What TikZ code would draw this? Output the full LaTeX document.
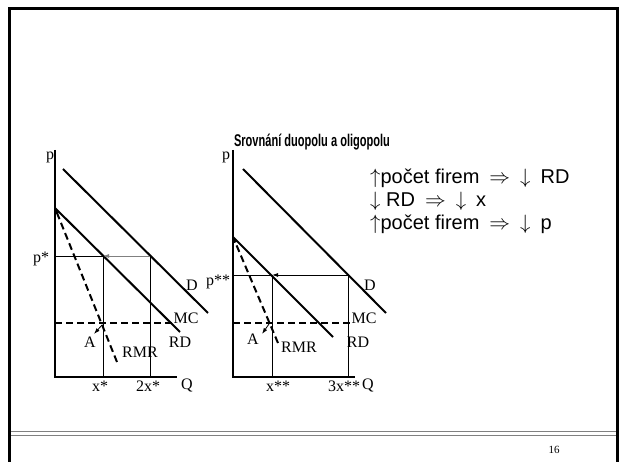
\documentclass[tikz,border=0pt]{standalone}
\usepackage{fontspec}
\setmainfont{Liberation Serif}
\newfontfamily\arial{Liberation Sans}
\usetikzlibrary{arrows.meta}
\tikzset{
  curve/.style={line width=2pt},
  axis/.style={line width=2pt},
  guide/.style={line width=0.8pt},
  dashline/.style={line width=2pt, dash pattern=on 7pt off 4pt},
  tip/.style={-{Latex[length=6pt,width=4pt]}},
  lab/.style={inner sep=0pt, font=\fontsize{16}{16}\selectfont},
}
\newcommand{\impl}{\enspace$\Rightarrow$\enspace$\downarrow$\enspace}
\begin{document}
\begin{tikzpicture}[x=1pt,y=-1pt]
  \useasboundingbox (0,0) rectangle (619,462);
  % slide frame
  \draw[line width=3pt] (9.5,462) -- (9.5,8.5) -- (617,8.5) -- (617,462);
  \draw[gray, line width=1pt] (11,432) -- (615.5,432) (11,435.5) -- (615.5,435.5);
  \node[inner sep=0pt, font=\fontsize{11}{11}\selectfont] (page) at (554,450) {16};
  \node[inner sep=0pt, xscale=0.65, font=\arial\bfseries\fontsize{17}{17}\selectfont] (title) at (312,142) {Srovnání duopolu a oligopolu};

  % duopol
  \coordinate (o1) at (55,377);
  \coordinate (y1) at (55,150);
  \coordinate (q1) at (177,377);
  \draw[axis] (y1) -- (o1) -- (q1);
  \coordinate (d1a) at (63,169);  \coordinate (d1b) at (208,313);
  \coordinate (r1a) at (55,208);  \coordinate (r1b) at (180,332);
  \coordinate (m1a) at (117,362);
  \coordinate (p1) at (55,256);   \coordinate (e1) at (103,256);  \coordinate (f1) at (150,256);
  \coordinate (x1) at (103,377);  \coordinate (xx1) at (150,377);
  \coordinate (c1a) at (55,323);  \coordinate (c1b) at (172,323);
  \coordinate (s1a) at (102,325); \coordinate (s1b) at (94,334);
  \draw[curve] (d1a) -- (d1b);
  \draw[curve] (r1a) -- (r1b);
  \draw[dashline, tip] (m1a) -- (r1a);
  \draw[guide] (p1) -- (e1);
  \draw[guide, gray, tip] (f1) -- (e1);
  \draw[guide] (e1) -- (x1) (f1) -- (xx1);
  \draw[dashline] (c1a) -- (c1b);
  \draw[guide, tip] (s1a) -- (s1b);
  \node[lab] (lp1) at (50,157) {p};
  \node[lab] (lps1) at (41,259) {p*};
  \node[lab] (ld1) at (192,285) {D};
  \node[lab] (lmc1) at (186,318) {MC};
  \node[lab] (lrd1) at (180,342) {RD};
  \node[lab] (la1) at (90,342) {A};
  \node[lab] (lrmr1) at (140,352) {RMR};
  \node[lab] (lx1) at (100,386) {x*};
  \node[lab] (lxx1) at (148,386) {2x*};
  \node[lab] (lq1) at (187,386) {Q};

  % oligopol
  \coordinate (o2) at (233,377);
  \coordinate (y2) at (233,150);
  \coordinate (q2) at (355,377);
  \draw[axis] (y2) -- (o2) -- (q2);
  \coordinate (d2a) at (243,169); \coordinate (d2b) at (386,313);
  \coordinate (r2a) at (233,237); \coordinate (r2b) at (333,337);
  \coordinate (m2a) at (278,343);
  \coordinate (p2) at (233,275);  \coordinate (e2) at (272,275);  \coordinate (f2) at (348,275);
  \coordinate (x2) at (272,377);  \coordinate (xx2) at (348,377);
  \coordinate (c2a) at (233,323); \coordinate (c2b) at (350,323);
  \coordinate (s2a) at (269,324); \coordinate (s2b) at (262,334);
  \draw[curve] (d2a) -- (d2b);
  \draw[curve] (r2a) -- (r2b);
  \draw[dashline, tip] (m2a) -- (r2a);
  \draw[guide] (p2) -- (e2);
  \draw[guide, tip] (f2) -- (e2);
  \draw[guide] (e2) -- (x2) (f2) -- (xx2);
  \draw[dashline] (c2a) -- (c2b);
  \draw[guide, tip] (s2a) -- (s2b);
  \node[lab] (lp2) at (226,157) {p};
  \node[lab] (lps2) at (218,282) {p**};
  \node[lab] (ld2) at (370,285) {D};
  \node[lab] (lmc2) at (364,318) {MC};
  \node[lab] (lrd2) at (358,342) {RD};
  \node[lab] (la2) at (253,339) {A};
  \node[lab] (lrmr2) at (299,347) {RMR};
  \node[lab] (lx2) at (278,386) {x**};
  \node[lab] (lxx2) at (344,386) {3x**};
  \node[lab] (lq2) at (368,386) {Q};

  % zavery
  \node[inner sep=0pt, anchor=west, align=left, font=\arial\fontsize{20}{23}\selectfont] (rules) at (370,201)
    {$\uparrow$počet firem\impl RD\\
     $\downarrow$ RD\impl x\\
     $\uparrow$počet firem\impl p};
\end{tikzpicture}
\end{document}
